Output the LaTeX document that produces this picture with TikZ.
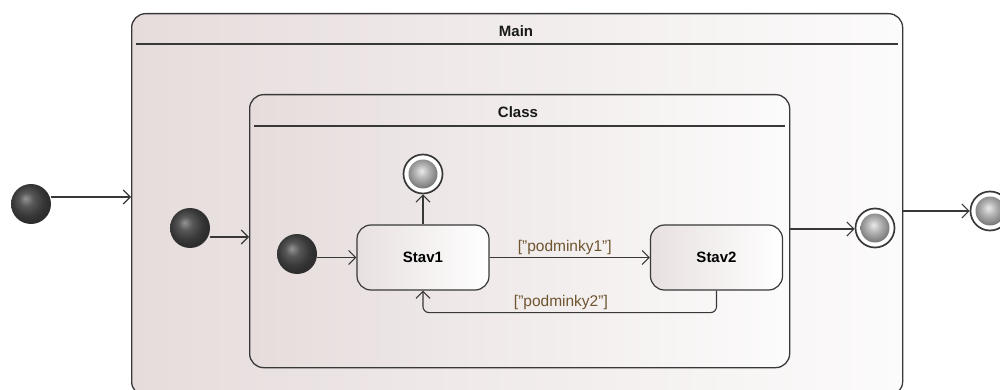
\documentclass[tikz,border=0pt]{standalone}
\usepackage{fontspec}
\setmainfont{Liberation Sans}
\usetikzlibrary{arrows.meta}

\definecolor{edge}{HTML}{383838}
\definecolor{regionL}{HTML}{E6DCDC}
\definecolor{regionR}{HTML}{FCFBFB}
\definecolor{stateL}{HTML}{E8E0E0}
\definecolor{guard}{HTML}{6E5530}

% dark sphere for initial pseudostates
\pgfdeclareradialshading{initball}{\pgfpoint{-7bp}{7bp}}{%
  color(0bp)=(black!42); color(9bp)=(black!66); color(19bp)=(black!78);
  color(25bp)=(black!82); color(50bp)=(black!82)}
% light sphere inside final states
\pgfdeclareradialshading{finalball}{\pgfpoint{-2bp}{4bp}}{%
  color(0bp)=(black!8); color(9bp)=(black!30); color(20bp)=(black!52);
  color(25bp)=(black!60); color(50bp)=(black!60)}

\tikzset{
  region/.style={draw=edge, line width=1.3pt, rounded corners=14pt,
    left color=regionL, right color=regionR, inner sep=0pt, anchor=north west},
  regiontitle/.style={font=\bfseries\fontsize{15}{17}\selectfont, text=black!90},
  divider/.style={draw=edge, line width=1.3pt},
  statebox/.style={draw=edge, line width=1.2pt, rounded corners=14pt,
    left color=stateL, right color=white, minimum width=132pt, minimum height=65pt,
    inner sep=0pt, font=\bfseries\fontsize{15}{17}\selectfont},
  initial/.style={circle, minimum size=40pt, inner sep=0pt, shading=initball},
  final/.style={circle, minimum size=39pt, inner sep=0pt, draw=edge, line width=1.7pt,
    fill=white, path picture={\shade[shading=finalball]
      (path picture bounding box.center) circle (14.5pt);}},
  arr/.style={draw=edge, line width=1.1pt, -{Straight Barb[length=7pt,width=14pt]}},
  guardlbl/.style={font=\fontsize{15.5}{17}\selectfont, text=guard},
}

\begin{document}
\begin{tikzpicture}[x=1pt, y=-1pt]
  \useasboundingbox (0,0) rectangle (1000,390);
  \clip (0,0) rectangle (1000,390);

  % outer composite state
  \node[region, minimum width=771pt, minimum height=382pt] (main) at (131,13) {};
  \node[regiontitle] (maintitle) at (516,31) {Main};
  \draw[divider] ([xshift=5pt,yshift=-31pt]main.north west) -- ([xshift=-5pt,yshift=-31pt]main.north east);

  % inner composite state
  \node[region, minimum width=540pt, minimum height=273pt] (class) at (249,94) {};
  \node[regiontitle] (classtitle) at (518,112) {Class};
  \draw[divider] ([xshift=5pt,yshift=-32pt]class.north west) -- ([xshift=-5pt,yshift=-32pt]class.north east);

  % simple states
  \node[statebox] (stav1) at (423,257.5) {Stav1};
  \node[statebox] (stav2) at (716.5,257.5) {Stav2};

  % pseudostates
  \node[initial] (init1) at (31,204) {};
  \node[initial] (init2) at (190,228) {};
  \node[initial] (init3) at (297,254) {};
  \node[final] (final1) at (423,174) {};
  \node[final] (final2) at (875,228) {};
  \node[final] (final3) at (990,211) {};

  % border entry / exit points
  \coordinate (mainin) at (131,197);
  \coordinate (classin) at (249,237);
  \coordinate (classout) at (789,229);
  \coordinate (mainout) at (902,211);

  % transitions
  \draw[arr] (init1.east |- mainin) -- (mainin);
  \draw[arr] (init2.east |- classin) -- (classin);
  \draw[arr] (init3.east |- stav1.west) -- (stav1.west);
  \draw[arr] (stav1.north) -- (final1.south);
  \draw[arr] (stav1.east) -- node[guardlbl, above, yshift=-1pt, xshift=-5pt] {["podminky1"]} (stav2.west);
  \draw[arr, rounded corners=6pt] (stav2.south) -- ++(0,22)
    -| node[guardlbl, pos=0.26, above, yshift=-1pt, xshift=-3pt] {["podminky2"]} (stav1.south);
  \draw[arr] (classout) -- (final2.west |- classout);
  \draw[arr] (mainout) -- (final3.west |- mainout);
\end{tikzpicture}
\end{document}
